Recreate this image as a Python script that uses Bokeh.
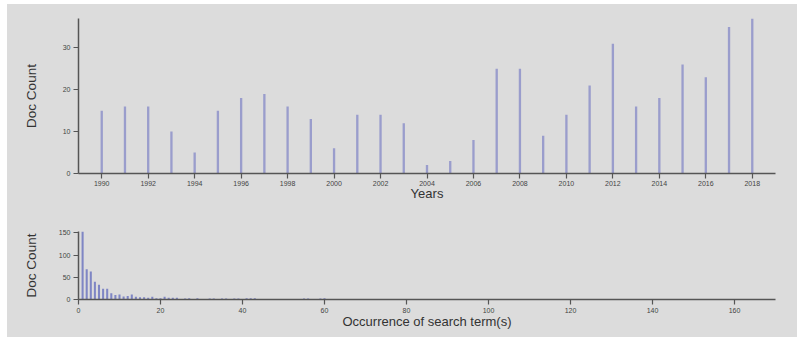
from bokeh.plotting import figure
from bokeh.layouts import column
from bokeh.models import Range1d, FixedTicker, ColumnDataSource
from bokeh.embed import file_html
from bokeh.resources import INLINE

# --- data: documents per year ---
years = list(range(1990, 2019))
year_counts = [15, 16, 16, 10, 5, 15, 18, 19, 16, 13, 6, 14, 14, 12, 2, 3, 8,
               25, 25, 9, 14, 21, 31, 16, 18, 26, 23, 35, 37]
year_ticks = list(range(1990, 2019, 2))
year_yticks = [0, 10, 20, 30]

# --- data: histogram of occurrences ---
occurrences = [1, 2, 3, 4, 5, 6, 7, 8, 9, 10, 11, 12, 13, 14, 15, 16, 17, 18, 19,
               20, 21, 22, 23, 24, 26, 27, 29, 32, 33, 35, 36, 38, 39, 41, 42, 43,
               55, 56, 59, 60]
occ_counts = [153, 68, 63, 40, 33, 24, 24, 14, 10, 11, 7, 8, 11, 6, 5, 5, 4, 6, 3,
              3, 6, 4, 4, 4, 2, 3, 3, 2, 2, 2, 2, 2, 2, 3, 3, 3,
              2, 2, 2, 3]
occ_ticks = [0, 20, 40, 60, 80, 100, 120, 140, 160]
occ_yticks = [0, 50, 100, 150]

BG = "#dcdcdc"
AX = "#555555"
FONT = "Liberation Sans"


def style(p):
    p.background_fill_color = BG
    p.border_fill_color = BG
    p.outline_line_color = None
    p.xgrid.grid_line_color = None
    p.ygrid.grid_line_color = None
    for ax in (p.xaxis[0], p.yaxis[0]):
        ax.axis_line_color = AX
        ax.axis_line_width = 1.5
        ax.major_tick_line_color = AX
        ax.major_tick_line_width = 1.2
        ax.major_tick_out = 5
        ax.major_tick_in = 0
        ax.minor_tick_line_color = None
        ax.major_label_text_font = FONT
        ax.major_label_text_font_size = "7px"
        ax.major_label_text_color = "#444444"
        ax.axis_label_text_font = FONT
        ax.axis_label_text_font_style = "normal"
        ax.axis_label_text_color = "#333333"
        ax.major_label_standoff = 3


# ---- top chart ----
p1 = figure(width=790, height=205, output_backend="svg", toolbar_location=None,
            x_range=Range1d(1989, 2019), y_range=Range1d(0, 37),
            min_border_left=71, min_border_right=22, min_border_top=14,
            min_border_bottom=36)
src1 = ColumnDataSource(dict(x=years, top=year_counts))
p1.vbar(x="x", top="top", bottom=0, width=0.1, source=src1,
        fill_color="#9a9dcc", line_color=None)
style(p1)
p1.xaxis.ticker = FixedTicker(ticks=year_ticks)
p1.yaxis.ticker = FixedTicker(ticks=year_yticks)
p1.xaxis.axis_label = "Years"
p1.yaxis.axis_label = "Doc Count"
p1.xaxis.axis_label_text_font_size = "13px"
p1.yaxis.axis_label_text_font_size = "13.5px"
p1.xaxis.major_label_standoff = 2
p1.xaxis.axis_label_standoff = -3
p1.yaxis.axis_label_standoff = 21

# ---- bottom chart ----
p2 = figure(width=790, height=128, output_backend="svg", toolbar_location=None,
            x_range=Range1d(0, 170), y_range=Range1d(0, 153),
            min_border_left=71, min_border_right=22, min_border_top=22,
            min_border_bottom=38)
src2 = ColumnDataSource(dict(x=occurrences, top=occ_counts))
p2.vbar(x="x", top="top", bottom=0, width=0.5, source=src2,
        fill_color="#7f86c4", line_color=None)
style(p2)
p2.xaxis.ticker = FixedTicker(ticks=occ_ticks)
p2.yaxis.ticker = FixedTicker(ticks=occ_yticks)
p2.xaxis.axis_label = "Occurrence of search term(s)"
p2.yaxis.axis_label = "Doc Count"
p2.xaxis.axis_label_text_font_size = "13px"
p2.yaxis.axis_label_text_font_size = "13.5px"
p2.xaxis.major_label_standoff = 3
p2.xaxis.axis_label_standoff = -2
p2.yaxis.axis_label_standoff = 17

layout = column(p1, p2, spacing=0,
                styles={"margin-left": "7px", "margin-top": "4px",
                        "background-color": BG})

open("out.html", "w").write(file_html(layout, INLINE))
